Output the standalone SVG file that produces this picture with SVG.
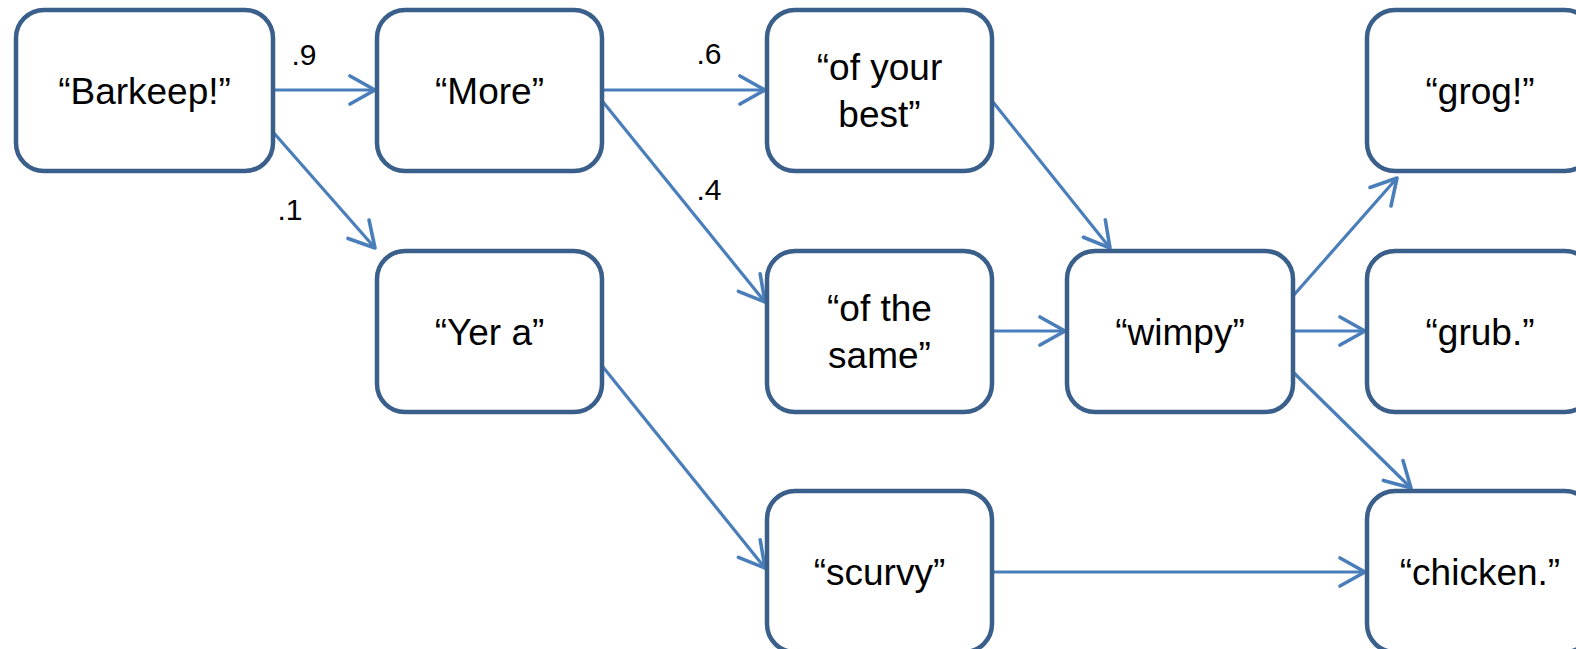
<svg xmlns="http://www.w3.org/2000/svg" width="1576" height="649" viewBox="0 0 1576 649">
<style>
.box{fill:#fff;stroke:#3A5F8B;stroke-width:4.5}
.t{font-family:"Liberation Sans",Arial,sans-serif;font-size:37px;fill:#000;text-anchor:middle}
.lbl{font-family:"Liberation Sans",Arial,sans-serif;font-size:30px;fill:#000;text-anchor:middle}
.c{stroke:#4A7EBB;stroke-width:3.2;fill:none;marker-end:url(#ah)}
</style>
<defs>
<marker id="ah" markerUnits="userSpaceOnUse" markerWidth="34" markerHeight="36" viewBox="-30 -18 34 36" refX="0" refY="0" orient="auto">
<path d="M-25,-14 L0,0 L-25,14" fill="none" stroke="#4A7EBB" stroke-width="3.6" stroke-linecap="round" stroke-linejoin="round"/>
</marker>
</defs>
<rect width="1576" height="649" fill="#fff"/>
<g id="connectors">
<line class="c" x1="273" y1="90" x2="375" y2="90"/>
<line class="c" x1="273" y1="132" x2="375" y2="248"/>
<line class="c" x1="603" y1="90" x2="765" y2="90"/>
<line class="c" x1="603" y1="102" x2="765" y2="302"/>
<line class="c" x1="603" y1="367" x2="765" y2="568"/>
<line class="c" x1="993" y1="102" x2="1110" y2="248"/>
<line class="c" x1="993" y1="331" x2="1065" y2="331"/>
<line class="c" x1="1293" y1="296" x2="1397" y2="178"/>
<line class="c" x1="1293" y1="331" x2="1365" y2="331"/>
<line class="c" x1="1293" y1="372" x2="1411" y2="488"/>
<line class="c" x1="993" y1="572" x2="1365" y2="572"/>
<text class="lbl" x="304" y="65">.9</text>
<text class="lbl" x="290" y="220">.1</text>
<text class="lbl" x="709" y="64">.6</text>
<text class="lbl" x="709" y="200">.4</text>
</g>
<g id="barkeep"><rect class="box" x="16" y="10" width="257" height="161" rx="28"/><text class="t" x="144.5" y="103.5">“Barkeep!”</text></g>
<g id="more"><rect class="box" x="377" y="10" width="225" height="161" rx="28"/><text class="t" x="489.5" y="103.5">“More”</text></g>
<g id="yer-a"><rect class="box" x="377" y="251" width="225" height="161" rx="28"/><text class="t" x="489.5" y="344.5">“Yer a”</text></g>
<g id="of-your-best"><rect class="box" x="767" y="10" width="225" height="161" rx="28"/><text class="t" x="879.5" y="80">“of your</text><text class="t" x="879.5" y="127">best”</text></g>
<g id="of-the-same"><rect class="box" x="767" y="251" width="225" height="161" rx="28"/><text class="t" x="879.5" y="321">“of the</text><text class="t" x="879.5" y="368">same”</text></g>
<g id="scurvy"><rect class="box" x="767" y="491" width="225" height="161" rx="28"/><text class="t" x="879.5" y="584.5">“scurvy”</text></g>
<g id="wimpy"><rect class="box" x="1067" y="251" width="226" height="161" rx="28"/><text class="t" x="1180" y="344.5">“wimpy”</text></g>
<g id="grog"><rect class="box" x="1367" y="10" width="226" height="161" rx="28"/><text class="t" x="1480" y="103.5">“grog!”</text></g>
<g id="grub"><rect class="box" x="1367" y="251" width="226" height="161" rx="28"/><text class="t" x="1480" y="344.5">“grub.”</text></g>
<g id="chicken"><rect class="box" x="1367" y="491" width="226" height="161" rx="28"/><text class="t" x="1480" y="584.5">“chicken.”</text></g>
</svg>
